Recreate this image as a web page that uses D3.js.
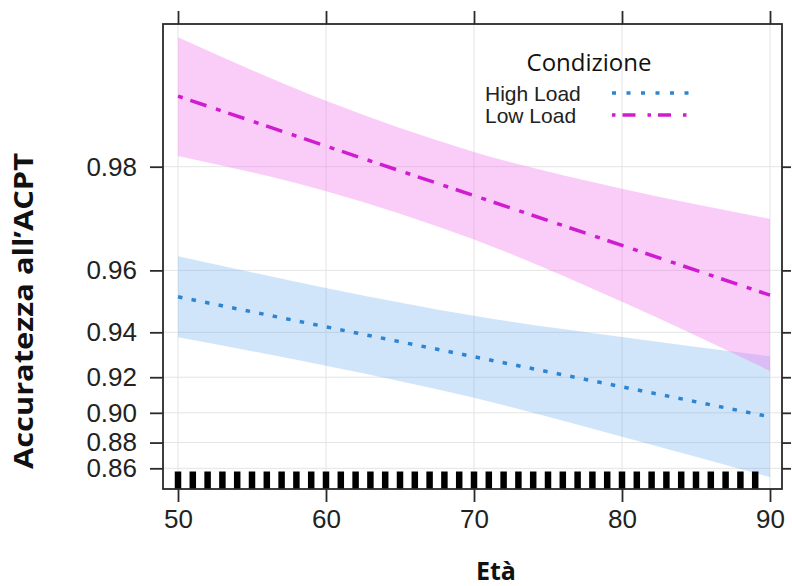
<!DOCTYPE html>
<html>
<head>
<meta charset="utf-8">
<script src="https://cdn.jsdelivr.net/npm/d3@7"></script>
<style>
  body { margin: 0; background: #fff; }
  svg { display: block; }
</style>
</head>
<body>
<svg id="chart"></svg>
<script>
const ages = [50, 60, 70, 80, 90];

// High Load: fitted accuracy and confidence band
const highFit   = [0.9524, 0.9421, 0.9298, 0.9150, 0.8975];
const highLower = [0.9381, 0.9256, 0.9089, 0.8841, 0.8524];
const highUpper = [0.9636, 0.9551, 0.9461, 0.9382, 0.9300];

// Low Load: fitted accuracy and confidence band
const lowFit   = [0.9876, 0.9826, 0.9757, 0.9661, 0.9529];
const lowLower = [0.9814, 0.9764, 0.9674, 0.9508, 0.9231];
const lowUpper = [0.9917, 0.9872, 0.9819, 0.9768, 0.9716];

// ages of the observations (rug)
const rugAges = [50, 51, 52, 53, 54, 55, 56, 57, 58, 59, 60, 61, 62, 63, 64, 65, 66, 67, 68, 69,
                 70, 71, 72, 73, 74, 75, 76, 77, 78, 79, 80, 81, 82, 83, 84, 85, 86, 87, 88, 89];

const xTicks = [50, 60, 70, 80, 90];
const yTicks = [0.86, 0.88, 0.90, 0.92, 0.94, 0.96, 0.98];
const seriesNames = ['High Load', 'Low Load'];

const width = 792, height = 586;
const box = { left: 163, right: 782, top: 24, bottom: 489 };

const logit = p => Math.log(p / (1 - p));

const svg = d3.select('#chart').attr('width', width).attr('height', height);

const x = d3.scaleLinear().domain([50, 90]).range([178, 770]);
// logit probability scale, as in the effects plot
const yl = d3.scaleLinear().domain([logit(0.86), logit(0.98)]).range([468.3, 166.7]);
const y = p => yl(logit(p));

// grid
const grid = svg.append('g').attr('stroke', '#e4e4e4').attr('stroke-width', 1);
grid.selectAll('.gx').data(xTicks).join('line')
  .attr('x1', d => x(d)).attr('x2', d => x(d))
  .attr('y1', box.top).attr('y2', box.bottom);
grid.selectAll('.gy').data(yTicks).join('line')
  .attr('x1', box.left).attr('x2', box.right)
  .attr('y1', d => y(d)).attr('y2', d => y(d));

const mk = (fit, lo, hi) => ages.map((a, i) => ({ age: a, fit: fit[i], lo: lo[i], hi: hi[i] }));
const high = mk(highFit, highLower, highUpper);
const low = mk(lowFit, lowLower, lowUpper);

const area = d3.area()
  .x(d => x(d.age))
  .y0(d => y(d.lo))
  .y1(d => y(d.hi))
  .curve(d3.curveMonotoneX);

const line = d3.line()
  .x(d => x(d.age))
  .y(d => y(d.fit));

svg.append('path').datum(high).attr('d', area)
  .attr('fill', '#66aaf0').attr('fill-opacity', 0.3);
svg.append('path').datum(low).attr('d', area)
  .attr('fill', '#f274ee').attr('fill-opacity', 0.36);

svg.append('path').datum(high).attr('d', line)
  .attr('fill', 'none').attr('stroke', '#2d85d2').attr('stroke-width', 3.5)
  .attr('stroke-dasharray', '4.5,9.3');
svg.append('path').datum(low).attr('d', line)
  .attr('fill', 'none').attr('stroke', '#d01cd0').attr('stroke-width', 3.5)
  .attr('stroke-dasharray', '5,8,17,10');

// rug
svg.append('g').selectAll('line').data(rugAges).join('line')
  .attr('x1', d => x(d)).attr('x2', d => x(d))
  .attr('y1', 471.5).attr('y2', box.bottom)
  .attr('stroke', '#000').attr('stroke-width', 6.5);

// box
svg.append('rect')
  .attr('x', box.left).attr('y', box.top)
  .attr('width', box.right - box.left).attr('height', box.bottom - box.top)
  .attr('fill', 'none').attr('stroke', '#2a2a2a').attr('stroke-width', 1.8);

// axes
const xb = d3.axisBottom(x).tickValues(xTicks).tickSize(13).tickPadding(8);
const xt = d3.axisTop(x).tickValues(xTicks).tickSize(13).tickFormat('');
const yLeft = d3.axisLeft(yl).tickValues(yTicks.map(logit)).tickSize(13).tickPadding(13)
  .tickFormat(v => d3.format('.2f')(1 / (1 + Math.exp(-v))));
const yRight = d3.axisRight(yl).tickValues(yTicks.map(logit)).tickSize(9).tickFormat('');

function style(g) {
  g.select('.domain').remove();
  g.selectAll('.tick line').attr('stroke', '#2a2a2a').attr('stroke-width', 1.8);
  g.selectAll('.tick text').attr('fill', '#222')
    .style('font-family', '"Liberation Sans", Arial, sans-serif').style('font-size', '26px');
}
svg.append('g').attr('transform', `translate(0,${box.bottom})`).call(xb).call(style);
svg.append('g').attr('transform', `translate(0,${box.top})`).call(xt).call(style);
svg.append('g').attr('transform', `translate(${box.left},0)`).call(yLeft).call(style);
svg.append('g').attr('transform', `translate(${box.right},0)`).call(yRight).call(style);

// axis titles
svg.append('text')
  .attr('x', 496).attr('y', 580)
  .attr('text-anchor', 'middle')
  .style('font-family', '"Open Sans", sans-serif').style('font-weight', 700).style('font-size', '25px')
  .attr('fill', '#111')
  .text('Età');

svg.append('text')
  .attr('transform', 'translate(33,311) rotate(-90)')
  .attr('text-anchor', 'middle')
  .attr('textLength', 316).attr('lengthAdjust', 'spacingAndGlyphs')
  .style('font-family', '"Open Sans", sans-serif').style('font-weight', 700).style('font-size', '26px')
  .attr('fill', '#111')
  .text('Accuratezza all’ACPT');

// legend
const legend = svg.append('g');
legend.append('text')
  .attr('x', 589).attr('y', 71)
  .attr('text-anchor', 'middle')
  .style('font-family', '"Open Sans", sans-serif').style('font-size', '24px')
  .attr('fill', '#111')
  .text('Condizione');

const legY = d3.scalePoint().domain(seriesNames).range([93, 115]);
const legStyles = {
  'High Load': { color: '#2d85d2', dash: '4,10.5', w: 3.5 },
  'Low Load': { color: '#d01cd0', dash: '3.5,7,13,12', w: 3.5 }
};
seriesNames.forEach(s => {
  legend.append('text')
    .attr('x', 485).attr('y', legY(s) + 8)
    .style('font-family', '"Liberation Sans", Arial, sans-serif').style('font-size', '21px')
    .attr('fill', '#222')
    .text(s);
  legend.append('line')
    .attr('x1', 612).attr('x2', 692)
    .attr('y1', legY(s)).attr('y2', legY(s))
    .attr('stroke', legStyles[s].color).attr('stroke-width', legStyles[s].w)
    .attr('stroke-dasharray', legStyles[s].dash);
});
</script>
</body>
</html>
